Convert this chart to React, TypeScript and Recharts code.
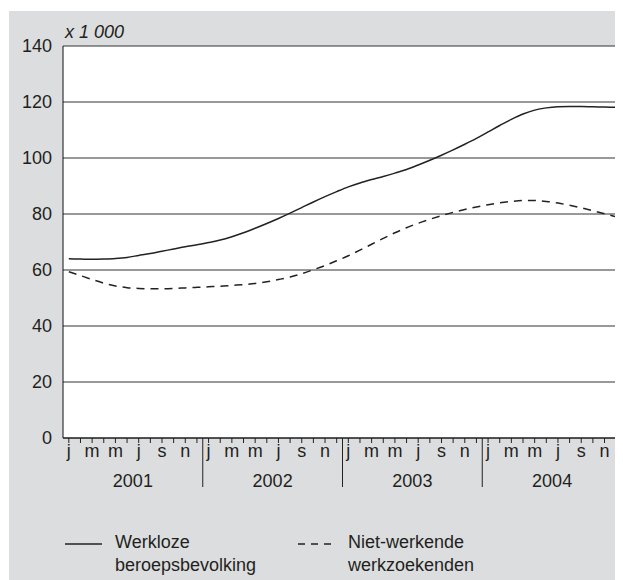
import React from "react";
import { CartesianGrid, Line, LineChart, XAxis, YAxis } from "recharts";

const years = ["2001", "2002", "2003", "2004"];
const monthLetters = ["j", "f", "m", "a", "m", "j", "j", "a", "s", "o", "n", "d"];

// x 1 000
const werklozeBeroepsbevolking = [
  64.0, 63.9, 63.8, 63.9, 64.1, 64.5, 65.2, 65.9, 66.7, 67.5, 68.3, 69.0,
  69.8, 70.7, 71.9, 73.3, 74.9, 76.6, 78.4, 80.3, 82.3, 84.3, 86.2, 88.0,
  89.7, 91.1, 92.3, 93.4, 94.6, 95.9, 97.5, 99.2, 101.0, 102.9, 104.9, 107.0,
  109.3, 111.6, 113.8, 115.7, 117.1, 117.9, 118.3, 118.4, 118.4, 118.3, 118.2, 118.1,
];
const nietWerkendeWerkzoekenden = [
  59.4, 58.0, 56.6, 55.3, 54.3, 53.7, 53.4, 53.3, 53.3, 53.4, 53.6, 53.8,
  54.0, 54.2, 54.5, 54.8, 55.2, 55.8, 56.6, 57.5, 58.7, 60.1, 61.6, 63.3,
  65.1, 67.1, 69.2, 71.3, 73.3, 75.1, 76.7, 78.1, 79.4, 80.6, 81.6, 82.5,
  83.3, 84.0, 84.5, 84.8, 84.8, 84.5, 83.9, 83.1, 82.2, 81.2, 80.1, 79.0,
];
const yTicks = [0, 20, 40, 60, 80, 100, 120, 140];

const data = werklozeBeroepsbevolking.map((v, i) => ({
  key: `${years[Math.floor(i / 12)]}-${i % 12}`,
  month: monthLetters[i % 12],
  year: years[Math.floor(i / 12)],
  werkloze: v,
  niet: nietWerkendeWerkzoekenden[i],
}));

const W = 623;
const H = 580;
const margin = { top: 46, right: 1, bottom: 82, left: 8 };
const yAxisWidth = 55;
const plotW = W - margin.left - margin.right - yAxisWidth;
const band = plotW / data.length;

const font = "'Liberation Sans', Arial, Helvetica, sans-serif";
const ink = "#231f20";

const MonthTick = (props: any) => {
  const { x, y, payload } = props;
  const i = payload.index;
  const axisY = y - 7;
  return (
    <g>
      {i % 2 === 0 && (
        <text x={x} y={axisY + 19} textAnchor="middle" fill={ink} fontSize={18} fontFamily={font}>
          {data[i].month}
        </text>
      )}
      {i % 12 === 0 && i > 0 && (
        <line x1={x - band / 2} x2={x - band / 2} y1={axisY} y2={axisY + 49} stroke="#222" strokeWidth={1} />
      )}
      {i % 12 === 5 && (
        <text x={x + band / 2} y={axisY + 49} textAnchor="middle" fill={ink} fontSize={18} fontFamily={font}>
          {data[i].year}
        </text>
      )}
    </g>
  );
};

export default function App() {
  return (
    <div style={{ position: "relative", width: W, height: H, margin: "-8px 0 0 -8px", fontFamily: font }}>
      <div style={{ position: "absolute", left: 9, top: 11, right: 0, bottom: 0, background: "#dcdddf" }} />
      <div style={{ position: "absolute", left: 65, top: 22, fontSize: 18, fontStyle: "italic", color: ink }}>
        x 1 000
      </div>
      <div style={{ position: "absolute", left: 0, top: 0 }}>
        <LineChart width={W} height={H} data={data} margin={margin}>
          <CartesianGrid vertical={false} stroke="#333" fill="#fff" />
          <XAxis
            dataKey="key"
            interval={0}
            height={60}
            padding={{ left: band / 2, right: band / 2 }}
            tickSize={5}
            tickLine={{ stroke: "#222" }}
            axisLine={{ stroke: "#111" }}
            tick={<MonthTick />}
          />
          <YAxis
            width={yAxisWidth}
            domain={[0, 140]}
            ticks={yTicks}
            tickLine={false}
            tickMargin={5}
            axisLine={{ stroke: "#111" }}
            tick={{ fill: ink, fontSize: 18, fontFamily: font }}
          />
          <Line
            dataKey="werkloze"
            type="monotone"
            stroke="#222"
            strokeWidth={1.5}
            dot={false}
            isAnimationActive={false}
          />
          <Line
            dataKey="niet"
            type="monotone"
            stroke="#222"
            strokeWidth={1.5}
            strokeDasharray="8 6"
            dot={false}
            isAnimationActive={false}
          />
        </LineChart>
      </div>
      <div style={{ position: "absolute", left: 65, top: 531, fontSize: 18, lineHeight: "23px", color: ink, display: "flex" }}>
        <svg width={37} height={20} style={{ marginTop: 3 }}>
          <line x1={0} x2={37} y1={10} y2={10} stroke="#222" strokeWidth={1.5} />
        </svg>
        <div style={{ marginLeft: 13, width: 183 }}>
          Werkloze
          <br />
          beroepsbevolking
        </div>
        <svg width={35} height={20} style={{ marginTop: 3 }}>
          <line x1={0} x2={35} y1={10} y2={10} stroke="#222" strokeWidth={1.5} strokeDasharray="7 6" />
        </svg>
        <div style={{ marginLeft: 15 }}>
          Niet-werkende
          <br />
          werkzoekenden
        </div>
      </div>
    </div>
  );
}
